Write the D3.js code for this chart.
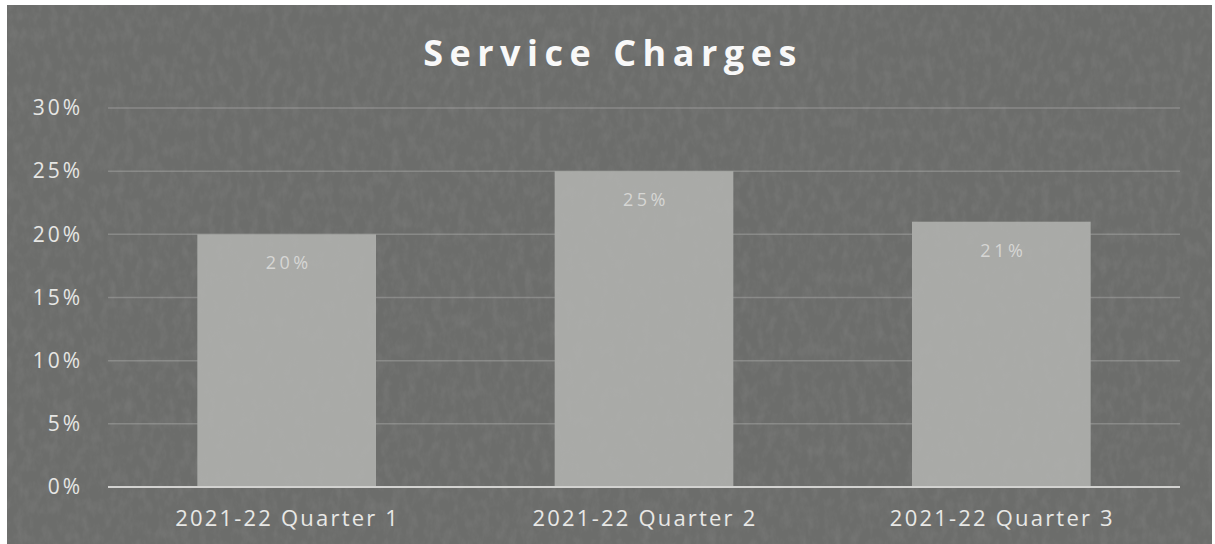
<!DOCTYPE html>
<html>
<head>
<meta charset="utf-8">
<script src="https://cdn.jsdelivr.net/npm/d3@7"></script>
<style>
  html, body { margin: 0; padding: 0; background: #ffffff; }
  svg { display: block; }
</style>
</head>
<body>
<svg id="chart" width="1215" height="544"></svg>
<script>
// Chart data
const categories = ["2021-22 Quarter 1", "2021-22 Quarter 2", "2021-22 Quarter 3"];
const values = [0.20, 0.25, 0.21];
const yTicks = [0, 0.05, 0.10, 0.15, 0.20, 0.25, 0.30];
const title = "Service Charges";

const W = 1215, H = 544;
const svg = d3.select("#chart");
const FONT = "'Open Sans', sans-serif";

// Mottled slate texture
const defs = svg.append("defs");
const f = defs.append("filter").attr("id", "grain")
  .attr("x", 0).attr("y", 0).attr("width", "100%").attr("height", "100%");
f.append("feTurbulence").attr("type", "fractalNoise")
  .attr("baseFrequency", "0.12 0.07").attr("numOctaves", 4).attr("seed", 11).attr("result", "n");
f.append("feColorMatrix").attr("in", "n").attr("type", "matrix")
  .attr("values", "0 0 0 0 0.45  0 0 0 0 0.45  0 0 0 0 0.45  0 0 0 1.4 -0.55").attr("result", "a");
f.append("feComposite").attr("in", "a").attr("in2", "SourceGraphic").attr("operator", "in");

// Panel
svg.append("rect").attr("x", 7).attr("y", 5).attr("width", W - 10).attr("height", H - 5)
  .attr("fill", "#6c6d6b");

const plot = { left: 108, right: 1180, top: 108, bottom: 487 };

const x = d3.scaleBand().domain(categories)
  .range([plot.left, plot.right]).paddingInner(0.5).paddingOuter(0.25);
const y = d3.scaleLinear().domain([0, 0.30]).range([plot.bottom, plot.top]);

// Gridlines
svg.append("g").selectAll("line").data(yTicks.filter(d => d > 0)).join("line")
  .attr("x1", plot.left).attr("x2", plot.right)
  .attr("y1", d => y(d)).attr("y2", d => y(d))
  .attr("stroke", "#888987").attr("stroke-width", 1.5);

// Bars
svg.append("g").selectAll("rect").data(values).join("rect")
  .attr("x", (d, i) => x(categories[i]))
  .attr("width", x.bandwidth())
  .attr("y", d => y(d))
  .attr("height", d => y(0) - y(d))
  .attr("fill", "#a9aaa7");

// Texture over panel and bars
svg.append("rect").attr("x", 7).attr("y", 5).attr("width", W - 10).attr("height", H - 5)
  .attr("fill", "#6b6c6a").attr("filter", "url(#grain)").attr("opacity", 0.18)
  .style("pointer-events", "none");

// Y axis labels
const yAxis = d3.axisLeft(y).tickValues(yTicks).tickFormat(d3.format(".0%")).tickSize(0).tickPadding(0);
const gy = svg.append("g").attr("transform", `translate(83,0)`).call(yAxis);
gy.select(".domain").remove();
gy.selectAll("text")
  .attr("fill", "#e6e6e4")
  .style("font-family", FONT)
  .style("font-size", "21px")
  .style("letter-spacing", "3px");

// Value labels inside bar tops
svg.append("g").selectAll("text").data(values).join("text")
  .attr("x", (d, i) => x(categories[i]) + x.bandwidth() / 2 + 2)
  .attr("y", d => y(d) + 35)
  .attr("text-anchor", "middle")
  .attr("fill", "#d6d6d4")
  .style("font-family", FONT)
  .style("font-size", "18px")
  .style("letter-spacing", "3.5px")
  .text(d => d3.format(".0%")(d));

// Baseline
svg.append("line")
  .attr("x1", plot.left).attr("x2", plot.right)
  .attr("y1", y(0)).attr("y2", y(0))
  .attr("stroke", "#d2d2d0").attr("stroke-width", 2);

// X axis labels
const xAxis = d3.axisBottom(x).tickSize(0).tickPadding(0);
const gx = svg.append("g").attr("transform", `translate(1,${y(0) + 39})`).call(xAxis);
gx.select(".domain").remove();
gx.selectAll("text")
  .attr("dy", 0)
  .attr("fill", "#e8e8e6")
  .style("font-family", FONT)
  .style("font-size", "22px")
  .style("letter-spacing", "2.2px");

// Title
svg.append("text")
  .attr("x", 613).attr("y", 66)
  .attr("text-anchor", "middle")
  .attr("fill", "#f8f8f8")
  .style("font-family", FONT)
  .style("font-weight", "bold")
  .style("font-size", "36px")
  .style("letter-spacing", "6.5px")
  .text(title);
</script>
</body>
</html>
